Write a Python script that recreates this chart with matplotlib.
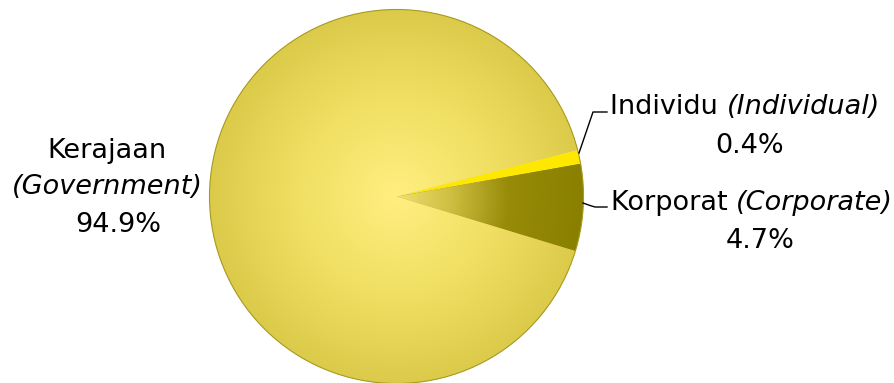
import numpy as np
import matplotlib
matplotlib.use("Agg")
import matplotlib.pyplot as plt
from matplotlib.colors import LinearSegmentedColormap

# slice sizes as drawn in the picture (measured angles), and the printed labels
names = ["Individu", "Korporat", "Kerajaan"]
names_en = ["Individual", "Corporate", "Government"]
drawn_share = [1.2, 7.5, 91.3]
label_pct = ["0.4%", "4.7%", "94.9%"]

W, H = 894, 383
fig = plt.figure(figsize=(W / 100, H / 100), dpi=100)
ax = fig.add_axes([0, 0, 1, 1])

cx, cy, R = 396.5, H - 196.5, 187
wedges, _ = ax.pie(drawn_share, startangle=14.4, counterclock=False,
                   center=(cx, cy), radius=R, frame=True,
                   colors=["#FFE800", "#8C8200", "#DCCB4A"],
                   wedgeprops=dict(linewidth=0))
ax.set_xlim(0, W)
ax.set_ylim(0, H)
ax.set_aspect("equal")
ax.axis("off")

# radial gradients clipped to the wedges
n = 600
gx = np.linspace(cx - R, cx + R, n)
gy = np.linspace(cy - R, cy + R, n)
XX, YY = np.meshgrid(gx, gy)
rr = np.hypot(XX - cx, YY - cy) / R
ext = (cx - R, cx + R, cy - R, cy + R)

gov_cmap = LinearSegmentedColormap.from_list("gov", ["#FFEF80", "#F1E064", "#DCCB4A"])
img = ax.imshow(rr, cmap=gov_cmap, vmin=0, vmax=1, extent=ext, origin="lower",
                interpolation="bilinear", zorder=2)
img.set_clip_path(wedges[2])

corp_cmap = LinearSegmentedColormap.from_list(
    "corp", [(0, "#F0E070"), (0.3, "#CDBD40"), (0.6, "#978B08"), (1, "#8A8000")])
img2 = ax.imshow(rr, cmap=corp_cmap, vmin=0, vmax=1, extent=ext, origin="lower",
                 interpolation="bilinear", zorder=2)
img2.set_clip_path(wedges[1])

for w in wedges:
    w.set_zorder(1)

circ = plt.Circle((cx, cy), R, fill=False, edgecolor="#A89A20", linewidth=0.8, zorder=3)
ax.add_patch(circ)

fs = 19.5
# Kerajaan label
ax.text(107, H - 151, names[2], ha="center", va="center", fontsize=fs)
ax.text(107, H - 187, "(" + names_en[2] + ")", ha="center", va="center", fontsize=fs, style="italic")
ax.text(118, H - 225, label_pct[2], ha="center", va="center", fontsize=fs)

# Individu label
t1 = ax.text(610, H - 107, names[0] + " ", ha="left", va="center", fontsize=fs)
ax.annotate("(" + names_en[0] + ")", xy=(1, 0.5), xycoords=t1, ha="left", va="center",
            fontsize=fs, style="italic")
ax.text(750, H - 146, label_pct[0], ha="center", va="center", fontsize=fs)
ax.plot([579, 593, 607], [H - 153, H - 112, H - 112], color="black", lw=1, zorder=4)

# Korporat label
t2 = ax.text(611, H - 203, names[1] + " ", ha="left", va="center", fontsize=fs)
ax.annotate("(" + names_en[1] + ")", xy=(1, 0.5), xycoords=t2, ha="left", va="center",
            fontsize=fs, style="italic")
ax.text(760, H - 241, label_pct[1], ha="center", va="center", fontsize=fs)
ax.plot([583, 590, 595, 607], [H - 203, H - 205.5, H - 207, H - 207], color="black", lw=1, zorder=4)

fig.savefig("out.png", dpi=100)
